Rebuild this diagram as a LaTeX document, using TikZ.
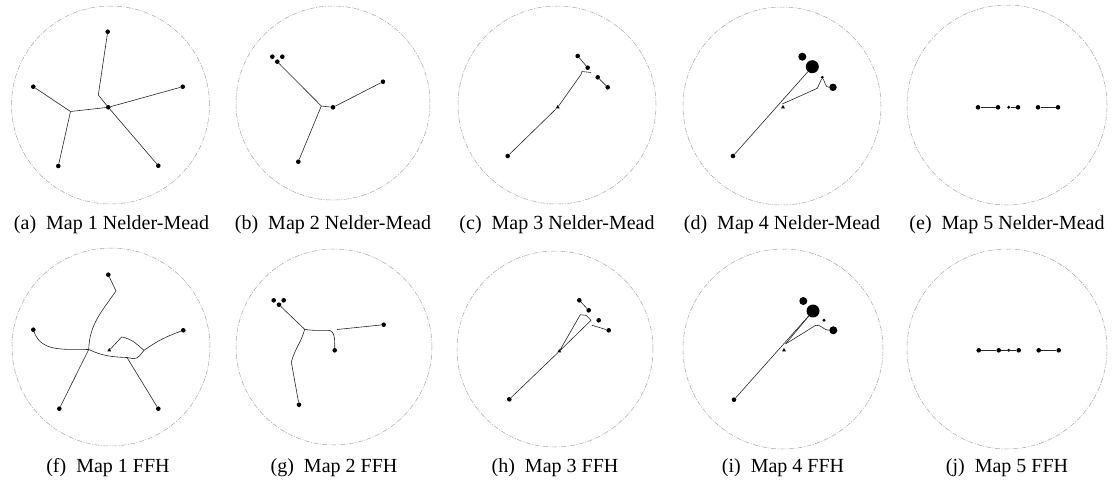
\documentclass[tikz,border=0pt]{standalone}
\usepackage{fontspec}
\setmainfont{Liberation Serif}
\usetikzlibrary{shapes.geometric}

\tikzset{
  site/.style={circle, fill=black, inner sep=0pt, minimum size=4.6pt},
  tinysite/.style={circle, fill=black, inner sep=0pt, minimum size=3.2pt},
  steiner/.style={regular polygon, regular polygon sides=3, fill=black, inner sep=0pt, minimum size=4.6pt},
  tree/.style={line width=0.6pt, black!85},
  rim/.style={line width=0.5pt, gray!70, dash pattern=on 5pt off 1.5pt on 1pt off 1.5pt},
  subcap/.style={anchor=base, inner sep=0pt, font=\fontsize{20}{24}\selectfont}
}

\begin{document}
\begin{tikzpicture}[x=1pt, y=-1pt]
  \useasboundingbox (0,0) rectangle (1116,485);

  % Rims of the ten maps
  \draw[rim] (110.5,105) circle (99pt);
  \draw[rim] (333,103) circle (97pt);
  \draw[rim] (557,105) circle (99pt);
  \draw[rim] (782,106) circle (99pt);
  \draw[rim] (1007,105) circle (100pt);
  \draw[rim] (111,347) circle (99pt);
  \draw[rim] (334,347) circle (98pt);
  \draw[rim] (555,349) circle (98pt);
  \draw[rim] (783,349) circle (100pt);
  \draw[rim] (1007,349) circle (100pt);

  % (a) Map 1 Nelder-Mead
  \node[site] (a1) at (107.7,31.7) {};
  \node[site] (a2) at (108.3,107.3) {};
  \node[site] (a3) at (182.7,86.7) {};
  \node[site] (a4) at (158.3,165.7) {};
  \node[site] (a5) at (33.3,86.7) {};
  \node[site] (a6) at (58.3,166) {};
  \coordinate (a7) at (70.5,111.5);
  \coordinate (a8) at (99.3,88.3);
  \coordinate (a9) at (98.3,95);
  \draw[tree] (a1) -- (a8) -- (a9) -- (a2);
  \draw[tree] (a2) -- (a3);
  \draw[tree] (a2) -- (a4);
  \draw[tree] (a2) -- (a7);
  \draw[tree] (a7) -- (a5);
  \draw[tree] (a7) -- (a6);

  % (b) Map 2 Nelder-Mead
  \node[site] (b1) at (272.3,56.7) {};
  \node[site] (b2) at (277.3,61.7) {};
  \node[site] (b3) at (282.3,56.7) {};
  \node[site] (b5) at (333,107.3) {};
  \node[site] (b6) at (383,81.7) {};
  \node[site] (b7) at (298.3,161.7) {};
  \coordinate (b4) at (321.3,106);
  \draw[tree] (b2) -- (b4) -- (b5);
  \draw[tree] (b5) -- (b6);
  \draw[tree] (b4) -- (b7);

  % (c) Map 3 Nelder-Mead
  \node[site] (c1) at (577.7,56) {};
  \node[site] (c2) at (587.7,67.7) {};
  \node[site] (c3) at (597.7,77.3) {};
  \node[site] (c4) at (607.7,87.3) {};
  \node[steiner] (c5) at (557.7,107.3) {};
  \node[site] (c6) at (507.7,156) {};
  \coordinate (c7) at (591,72.5);
  \coordinate (c8) at (582,71.5);
  \coordinate (c9) at (581,74.5);
  \draw[tree] (c1) -- (c2);
  \draw[tree] (c3) -- (c4);
  \draw[tree] (c7) -- (c8) -- (c9) -- (c5) -- (c6);

  % (d) Map 4 Nelder-Mead
  \node[site, minimum size=8pt] (d1) at (802.3,56.7) {};
  \node[site, minimum size=13pt] (d2) at (812.3,66.7) {};
  \node[tinysite] (d3) at (822.3,77.3) {};
  \node[site, minimum size=7.5pt] (d4) at (833,87.3) {};
  \node[steiner] (d5) at (783,107.3) {};
  \node[site] (d6) at (733,156) {};
  \coordinate (d7) at (782.3,104);
  \coordinate (d8) at (817.3,88.3);
  \draw[tree] (d6) -- (d2);
  \draw[tree] (d7) -- (d8) -- (d3);
  \draw[tree] (d3) to[out=-60,in=180] (d4);

  % (e) Map 5 Nelder-Mead
  \node[site] (e1) at (978,107.3) {};
  \node[site] (e2) at (998,107.3) {};
  \node[tinysite] (e3) at (1008.7,107.3) {};
  \node[site] (e4) at (1018,107.3) {};
  \node[site] (e5) at (1038,107.3) {};
  \node[site] (e6) at (1058,107.3) {};
  \draw[tree] (e1) -- (e2);
  \draw[tree] (e3) -- (e4);
  \draw[tree] (e5) -- (e6);

  % (f) Map 1 FFH
  \node[site] (f1) at (108.3,274.7) {};
  \node[site] (f2) at (33.3,329.7) {};
  \node[site] (f3) at (183.3,330.3) {};
  \node[site] (f4) at (59.3,408.7) {};
  \node[site] (f5) at (158.3,408.7) {};
  \node[steiner] (f6) at (109.3,350.3) {};
  \coordinate (fb) at (116,291);
  \coordinate (fj) at (88.7,349.5);
  \coordinate (fk) at (144,350.3);
  \coordinate (fm) at (133.3,358.7);
  \coordinate (fn) at (121.7,337);
  \coordinate (fo) at (127,357.5);
  \draw[tree] (f1) -- (fb) to[out=-125,in=88] (fj);
  \draw[tree] (f2) to[out=-70,in=178] (fj);
  \draw[tree] (fj) -- (f4);
  \draw[tree] (fj) to[out=-25,in=178] (fo) -- (fm) to[out=0,in=-130] (fk);
  \draw[tree] (fk) to[out=140,in=-10] (fn) -- (f6);
  \draw[tree] (fk) to[out=35,in=200] (f3);
  \draw[tree] (fo) -- (f5);

  % (g) Map 2 FFH
  \node[site] (g1) at (273.7,300.3) {};
  \node[site] (g2) at (279,304.7) {};
  \node[site] (g3) at (283.7,300.3) {};
  \node[site] (g4) at (334.7,350.3) {};
  \node[site] (g5) at (383.7,324.7) {};
  \node[site] (g6) at (299,404.7) {};
  \coordinate (gj) at (304.7,329.3);
  \coordinate (gl) at (328,330.3);
  \coordinate (gm) at (337,329.5);
  \coordinate (gn) at (291.3,362);
  \draw[tree] (g2) -- (gj) to[out=-10,in=180] (gl) to[out=0,in=90] (g4);
  \draw[tree] (gm) -- (g5);
  \draw[tree] (gj) to[out=-105,in=75] (gn) -- (g6);

  % (h) Map 3 FFH
  \node[site] (h1) at (579.3,300.3) {};
  \node[site] (h2) at (588.7,310.3) {};
  \node[site] (h3) at (598.7,320.3) {};
  \node[site] (h4) at (608.7,330.3) {};
  \node[steiner] (h5) at (559.3,351.3) {};
  \node[site] (h6) at (509.3,399.3) {};
  \coordinate (hq) at (592,325.3);
  \coordinate (hr) at (580.3,314.7);
  \coordinate (hs) at (586,315.3);
  \coordinate (ht) at (591,320.3);
  \draw[tree] (h1) -- (h2);
  \draw[tree] (hq) -- (h4);
  \draw[tree] (h5) -- (hr) -- (hs) -- (ht) -- (h5);
  \draw[tree] (h5) -- (h6);

  % (i) Map 4 FFH
  \node[site, minimum size=8pt] (i1) at (803.3,301) {};
  \node[site, minimum size=13pt] (i2) at (813,311) {};
  \node[tinysite] (i3) at (824,320.3) {};
  \node[site, minimum size=8pt] (i4) at (833.3,330.3) {};
  \node[steiner] (i5) at (784,350.3) {};
  \node[site] (i6) at (734,399.7) {};
  \coordinate (ij) at (785.5,344);
  \coordinate (ik) at (815.7,325.3);
  \draw[tree] (i6) -- (i2);
  \draw[tree] (ij) -- (i2);
  \draw[tree] (ij) -- (ik) to[out=10,in=180] (i4);

  % (j) Map 5 FFH
  \node[site] (j1) at (978.7,350.3) {};
  \node[site] (j2) at (998.7,350.3) {};
  \node[tinysite] (j3) at (1008.7,350.3) {};
  \node[site] (j4) at (1018.7,350.3) {};
  \node[site] (j5) at (1038.7,350.3) {};
  \node[site] (j6) at (1058.7,350.3) {};
  \draw[tree] (j1) -- (j2);
  \draw[tree] (j2) -- (j4);
  \draw[tree] (j5) -- (j6);

  % Captions
  \node[subcap] (capa) at (111.5,229) {(a)\hspace{0.5em}Map 1 Nelder-Mead};
  \node[subcap] (capb) at (333,229) {(b)\hspace{0.5em}Map 2 Nelder-Mead};
  \node[subcap] (capc) at (557,229) {(c)\hspace{0.5em}Map 3 Nelder-Mead};
  \node[subcap] (capd) at (782,229) {(d)\hspace{0.5em}Map 4 Nelder-Mead};
  \node[subcap] (cape) at (1007,229) {(e)\hspace{0.5em}Map 5 Nelder-Mead};
  \node[subcap] (capf) at (108,472) {(f)\hspace{0.5em}Map 1 FFH};
  \node[subcap] (capg) at (334,472) {(g)\hspace{0.5em}Map 2 FFH};
  \node[subcap] (caph) at (555,472) {(h)\hspace{0.5em}Map 3 FFH};
  \node[subcap] (capi) at (783,472) {(i)\hspace{0.5em}Map 4 FFH};
  \node[subcap] (capj) at (1007,472) {(j)\hspace{0.5em}Map 5 FFH};
\end{tikzpicture}
\end{document}
